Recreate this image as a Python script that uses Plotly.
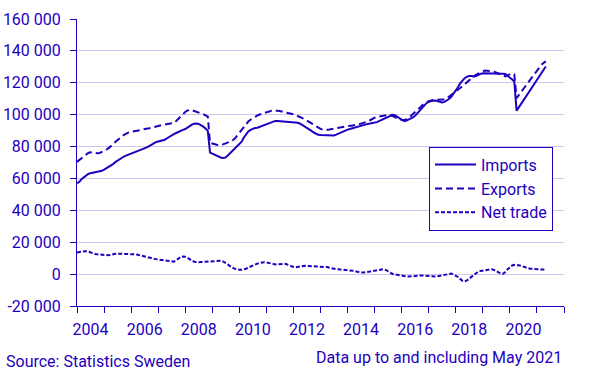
import plotly.graph_objects as go
import pandas as pd

# Monthly data, January 2004 - May 2021 (SEK million, trend)
start_month = "2004-01-01"
end_month = "2021-05-01"

imports_k = [
    57.0, 57.8, 59.5, 60.8, 62.0, 62.8, 63.3, 63.6, 63.8, 64.0, 64.3, 64.8,
    65.5, 66.3, 67.5, 68.3, 69.0, 70.2, 71.2, 72.2, 73.2, 73.9, 74.5, 75.0,
    75.6, 76.2, 76.8, 77.3, 77.8, 78.3, 78.8, 79.5, 80.3, 81.2, 82.2, 82.8,
    83.2, 83.5, 83.8, 84.3, 85.2, 86.2, 87.0, 87.8, 88.5, 89.3, 90.0, 90.5,
    91.0, 92.0, 93.0, 93.8, 94.3, 94.5, 94.2, 93.5, 92.5, 91.3, 89.8, 76.2,
    75.5, 75.0, 74.2, 73.5, 73.0, 72.9, 73.2, 74.5, 76.0, 77.5, 78.8, 80.3,
    81.5, 83.0, 85.5, 88.0, 89.5, 90.5, 91.3, 91.6, 91.8, 92.3, 92.8, 93.4,
    93.8, 94.5, 95.2, 95.8, 96.1, 96.1, 96.0, 95.8, 95.7, 95.6, 95.6, 95.6,
    95.4, 95.2, 94.9, 94.3, 93.5, 92.7, 91.8, 90.8, 89.8, 88.8, 87.8, 87.4,
    87.2, 87.1, 87.0, 87.0, 86.9, 86.9, 87.0, 87.5, 88.2, 88.9, 89.5, 90.1,
    90.6, 91.0, 91.4, 91.8, 92.3, 92.8, 93.2, 93.6, 93.9, 94.2, 94.4, 94.6,
    94.8, 95.3, 95.9, 96.6, 97.3, 98.0, 98.7, 99.4, 99.9, 99.6, 98.7, 97.6,
    96.6, 96.0, 96.1, 96.7, 97.5, 98.3, 99.3, 100.8, 102.4, 104.0, 105.8, 107.2,
    108.0, 108.5, 108.8, 108.9, 108.4, 107.8, 107.6, 108.0, 108.8, 109.8, 111.2, 113.0,
    115.0, 117.3, 119.6, 121.5, 122.9, 123.8, 124.3, 124.2, 123.9, 124.2, 125.0, 125.6,
    126.0, 126.0, 126.0, 126.0, 126.0, 126.0, 126.0, 126.0, 125.9, 125.7, 125.5, 124.5,
    123.3, 122.0, 120.8, 102.5, 104.6, 106.7, 108.9, 111.0, 113.1, 115.2, 117.5, 119.6,
    121.8, 123.9, 126.0, 128.2, 130.2,
]

exports_k = [
    70.4, 71.6, 72.8, 74.0, 75.2, 76.0, 76.4, 76.2, 75.9, 75.8, 76.0, 76.5,
    77.2, 78.0, 79.0, 80.0, 81.3, 82.8, 84.2, 85.3, 86.5, 87.5, 88.3, 88.9,
    89.2, 89.4, 89.6, 89.9, 90.3, 90.7, 91.1, 91.3, 91.5, 91.8, 92.2, 92.8,
    93.2, 93.4, 93.6, 93.8, 94.0, 94.2, 94.4, 94.8, 96.0, 97.5, 99.0, 100.5,
    101.7, 102.6, 103.0, 102.8, 102.4, 102.0, 101.5, 101.0, 100.3, 99.6, 98.8, 82.3,
    81.8, 81.4, 81.1, 80.9, 81.0, 81.5, 82.0, 82.6, 83.2, 83.8, 85.0, 86.8,
    88.5, 90.3, 92.3, 94.2, 95.7, 96.8, 97.8, 98.7, 99.5, 100.1, 100.6, 101.1,
    101.6, 102.0, 102.3, 102.5, 102.6, 102.5, 102.3, 102.0, 101.6, 101.2, 100.9, 100.6,
    100.2, 99.7, 99.2, 98.7, 98.0, 97.2, 96.3, 95.4, 94.6, 93.7, 92.7, 91.8,
    91.1, 90.6, 90.4, 90.5, 90.7, 91.0, 91.3, 91.5, 91.7, 92.0, 92.3, 92.6,
    92.8, 93.0, 93.1, 93.3, 93.6, 94.0, 94.4, 94.8, 95.2, 95.7, 96.5, 97.4,
    98.1, 98.6, 98.9, 99.2, 99.5, 99.7, 99.9, 99.8, 99.3, 98.5, 97.7, 97.1,
    96.8, 96.7, 97.0, 97.8, 99.0, 100.3, 101.5, 102.8, 104.3, 105.8, 107.0, 107.8,
    108.4, 108.9, 109.2, 109.3, 109.3, 109.3, 109.3, 109.5, 110.2, 111.2, 112.3, 113.3,
    114.3, 115.3, 116.7, 117.9, 119.2, 120.5, 121.8, 122.9, 124.0, 125.0, 125.9, 126.7,
    127.3, 127.7, 127.7, 127.5, 127.3, 127.0, 126.5, 126.0, 125.3, 124.5, 124.0, 124.6,
    125.4, 126.0, 125.2, 110.4, 112.3, 114.3, 116.2, 118.2, 120.1, 122.0, 123.9, 125.7,
    127.6, 129.4, 131.2, 132.5, 133.4,
]

net_trade_k = [
    13.6, 13.9, 14.2, 14.4, 14.4, 14.2, 13.6, 13.0, 12.6, 12.4, 12.2, 12.0,
    11.8, 11.7, 11.8, 12.1, 12.5, 12.7, 12.8, 12.8, 12.8, 12.8, 12.7, 12.7,
    12.7, 12.6, 12.4, 12.1, 11.7, 11.3, 10.9, 10.6, 10.3, 10.0, 9.7, 9.4,
    9.2, 9.0, 8.8, 8.6, 8.3, 8.0, 7.9, 7.8, 8.6, 9.8, 10.8, 11.0,
    10.9, 10.3, 9.3, 8.4, 7.8, 7.5, 7.5, 7.6, 7.7, 7.8, 7.8, 7.8,
    7.9, 8.1, 8.3, 8.5, 8.4, 7.8, 6.8, 5.8, 4.8, 4.0, 3.3, 2.9,
    2.7, 2.7, 2.9, 3.4, 4.1, 4.8, 5.4, 6.0, 6.6, 7.0, 7.3, 7.4,
    7.3, 7.0, 6.5, 6.2, 6.1, 6.2, 6.4, 6.5, 6.5, 6.2, 5.6, 4.9,
    4.5, 4.3, 4.5, 4.9, 5.2, 5.2, 5.1, 5.0, 4.9, 4.8, 4.8, 4.8,
    4.8, 4.8, 4.7, 4.4, 4.0, 3.6, 3.3, 3.1, 3.0, 2.9, 2.8, 2.7,
    2.7, 2.6, 2.4, 2.0, 1.6, 1.2, 1.0, 1.0, 1.1, 1.3, 1.6, 1.9,
    2.1, 2.4, 2.8, 3.1, 3.1, 2.6, 1.8, 0.8, 0.1, -0.2, -0.5, -0.8,
    -1.0, -1.2, -1.4, -1.5, -1.5, -1.4, -1.2, -1.0, -0.8, -0.8, -0.9, -1.1,
    -1.3, -1.4, -1.5, -1.5, -1.3, -1.0, -0.6, -0.2, 0.2, 0.4, 0.3, -0.3,
    -1.0, -1.8, -3.0, -4.2, -4.6, -4.0, -2.8, -1.6, -0.2, 1.0, 1.6, 2.0,
    2.3, 2.6, 2.9, 3.1, 3.1, 2.6, 1.8, 1.0, 0.3, 0.2, 1.3, 3.0,
    4.5, 5.4, 5.8, 5.8, 5.5, 5.2, 4.6, 4.1, 3.7, 3.4, 3.2, 3.1,
    3.0, 3.0, 2.9, 2.9, 2.9,
]

y_tick_values = [-20000, 0, 20000, 40000, 60000, 80000, 100000, 120000, 140000, 160000]
y_tick_labels = ["-20 000", "0", "20 000", "40 000", "60 000", "80 000",
                 "100 000", "120 000", "140 000", "160 000"]

months = pd.date_range(start_month, end_month, freq="MS")

BLUE = "#1e00be"
GRID = "#cbc8f0"
FONT = "Roboto"

fig = go.Figure()
fig.add_trace(go.Scatter(x=months, y=[v * 1000 for v in imports_k], name="Imports",
                         mode="lines", line=dict(color=BLUE, width=2)))
fig.add_trace(go.Scatter(x=months, y=[v * 1000 for v in exports_k], name="Exports",
                         mode="lines", line=dict(color=BLUE, width=2, dash="7px,4px")))
fig.add_trace(go.Scatter(x=months, y=[v * 1000 for v in net_trade_k], name="Net trade",
                         mode="lines", line=dict(color=BLUE, width=2, dash="4px,2px")))

fig.update_layout(
    width=589, height=374,
    margin=dict(l=77, r=25, t=19, b=68, autoexpand=False),
    paper_bgcolor="white", plot_bgcolor="white",
    font=dict(family=FONT, size=16, color=BLUE),
    showlegend=True,
    legend=dict(x=(553 - 77) / 487, xanchor="right", y=0.555, yanchor="top",
                bordercolor=BLUE, borderwidth=1, bgcolor="white",
                font=dict(family=FONT, size=16, color=BLUE),
                tracegroupgap=0, itemwidth=41),
    annotations=[
        dict(text="Source: Statistics Sweden", xref="paper", yref="paper",
             x=-73 / 487, y=-0.155, xanchor="left", yanchor="top", showarrow=False,
             font=dict(family=FONT, size=16, color=BLUE)),
        dict(text="Data up to and including May 2021", xref="paper", yref="paper",
             x=1.0, y=-0.14, xanchor="right", yanchor="top", showarrow=False,
             font=dict(family=FONT, size=16, color=BLUE)),
    ],
)

fig.update_xaxes(
    type="date", range=["2004-01-01", "2022-01-01"],
    tickmode="linear", tick0="2004-01-01", dtick="M12", tickformat="%Y",
    ticklabelmode="period",
    labelalias={str(y): " " for y in range(2005, 2023, 2)},
    ticks="outside", ticklen=6, tickcolor=BLUE, tickwidth=1,
    ticklabelstandoff=3,
    showline=True, linecolor=BLUE, linewidth=1,
    showgrid=False, zeroline=False,
    tickfont=dict(family=FONT, size=16, color=BLUE),
)
fig.update_yaxes(
    range=[-20000, 160000], tickmode="array",
    tickvals=y_tick_values, ticktext=y_tick_labels,
    ticks="outside", ticklen=6, tickcolor=BLUE, tickwidth=1,
    ticklabelstandoff=6,
    showline=True, linecolor=BLUE, linewidth=1,
    showgrid=True, gridcolor=GRID, gridwidth=1, zeroline=False,
    tickfont=dict(family=FONT, size=16, color=BLUE),
)

fig.write_html("out.html", config={"displayModeBar": False},
               post_script="document.body.style.margin='0px';")
